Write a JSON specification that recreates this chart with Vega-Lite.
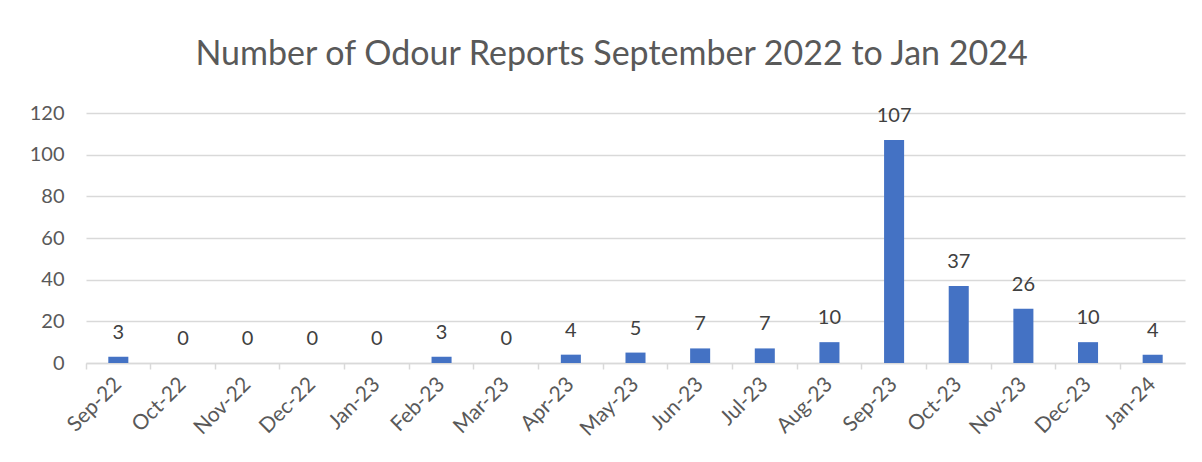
{
  "$schema": "https://vega.github.io/schema/vega-lite/v6.json",
  "autosize": "none",
  "width": 1099,
  "height": 250,
  "padding": {"left": 86, "top": 113, "right": 17, "bottom": 99},
  "background": "white",
  "title": {
    "text": "Number of Odour Reports September 2022 to Jan 2024",
    "font": "Lato",
    "fontSize": 34,
    "fontWeight": "normal",
    "color": "#595959",
    "anchor": "middle",
    "frame": "group",
    "dx": -24,
    "baseline": "alphabetic",
    "offset": 4
  },
  "config": {
    "view": {"stroke": null},
    "font": "Lato"
  },
  "data": {
    "values": [
      {"month": "Sep-22", "reports": 3},
      {"month": "Oct-22", "reports": 0},
      {"month": "Nov-22", "reports": 0},
      {"month": "Dec-22", "reports": 0},
      {"month": "Jan-23", "reports": 0},
      {"month": "Feb-23", "reports": 3},
      {"month": "Mar-23", "reports": 0},
      {"month": "Apr-23", "reports": 4},
      {"month": "May-23", "reports": 5},
      {"month": "Jun-23", "reports": 7},
      {"month": "Jul-23", "reports": 7},
      {"month": "Aug-23", "reports": 10},
      {"month": "Sep-23", "reports": 107},
      {"month": "Oct-23", "reports": 37},
      {"month": "Nov-23", "reports": 26},
      {"month": "Dec-23", "reports": 10},
      {"month": "Jan-24", "reports": 4}
    ]
  },
  "resolve": {"axis": {"x": "independent"}},
  "layer": [
    {
      "mark": {"type": "bar", "color": "#4472C4", "width": {"band": 0.31}},
      "encoding": {
        "x": {
          "field": "month", "type": "nominal", "sort": null,
          "scale": {"paddingInner": 0, "paddingOuter": 0},
          "axis": {
            "orient": "bottom",
            "title": null,
            "labels": false,
            "bandPosition": 0,
            "ticks": true,
            "tickSize": 6,
            "tickColor": "#D9D9D9",
            "tickWidth": 1.5,
            "domain": true,
            "domainColor": "#D9D9D9",
            "domainWidth": 1.5,
            "grid": false
          }
        },
        "y": {
          "field": "reports", "type": "quantitative",
          "scale": {"domain": [0, 120], "nice": false},
          "axis": {
            "title": null,
            "values": [0, 20, 40, 60, 80, 100, 120],
            "domain": false,
            "ticks": false,
            "labelFontSize": 20,
            "labelColor": "#595959",
            "labelPadding": 22,
            "labelFont": "Lato",
            "gridColor": "#D9D9D9",
            "gridWidth": 1.5
          }
        }
      }
    },
    {
      "mark": {"type": "text", "baseline": "alphabetic", "dy": -18, "fontSize": 20, "color": "#404040", "font": "Lato"},
      "encoding": {
        "x": {
          "field": "month", "type": "nominal", "sort": null,
          "axis": {
            "orient": "bottom",
            "title": null,
            "ticks": false,
            "domain": false,
            "grid": false,
            "labelAngle": -45,
            "labelAlign": "right",
            "labelBaseline": "middle",
            "labelFontSize": 21,
            "labelColor": "#595959",
            "labelPadding": 18,
            "labelFont": "Lato"
          }
        },
        "y": {"field": "reports", "type": "quantitative"},
        "text": {"field": "reports", "type": "quantitative"}
      }
    }
  ]
}
